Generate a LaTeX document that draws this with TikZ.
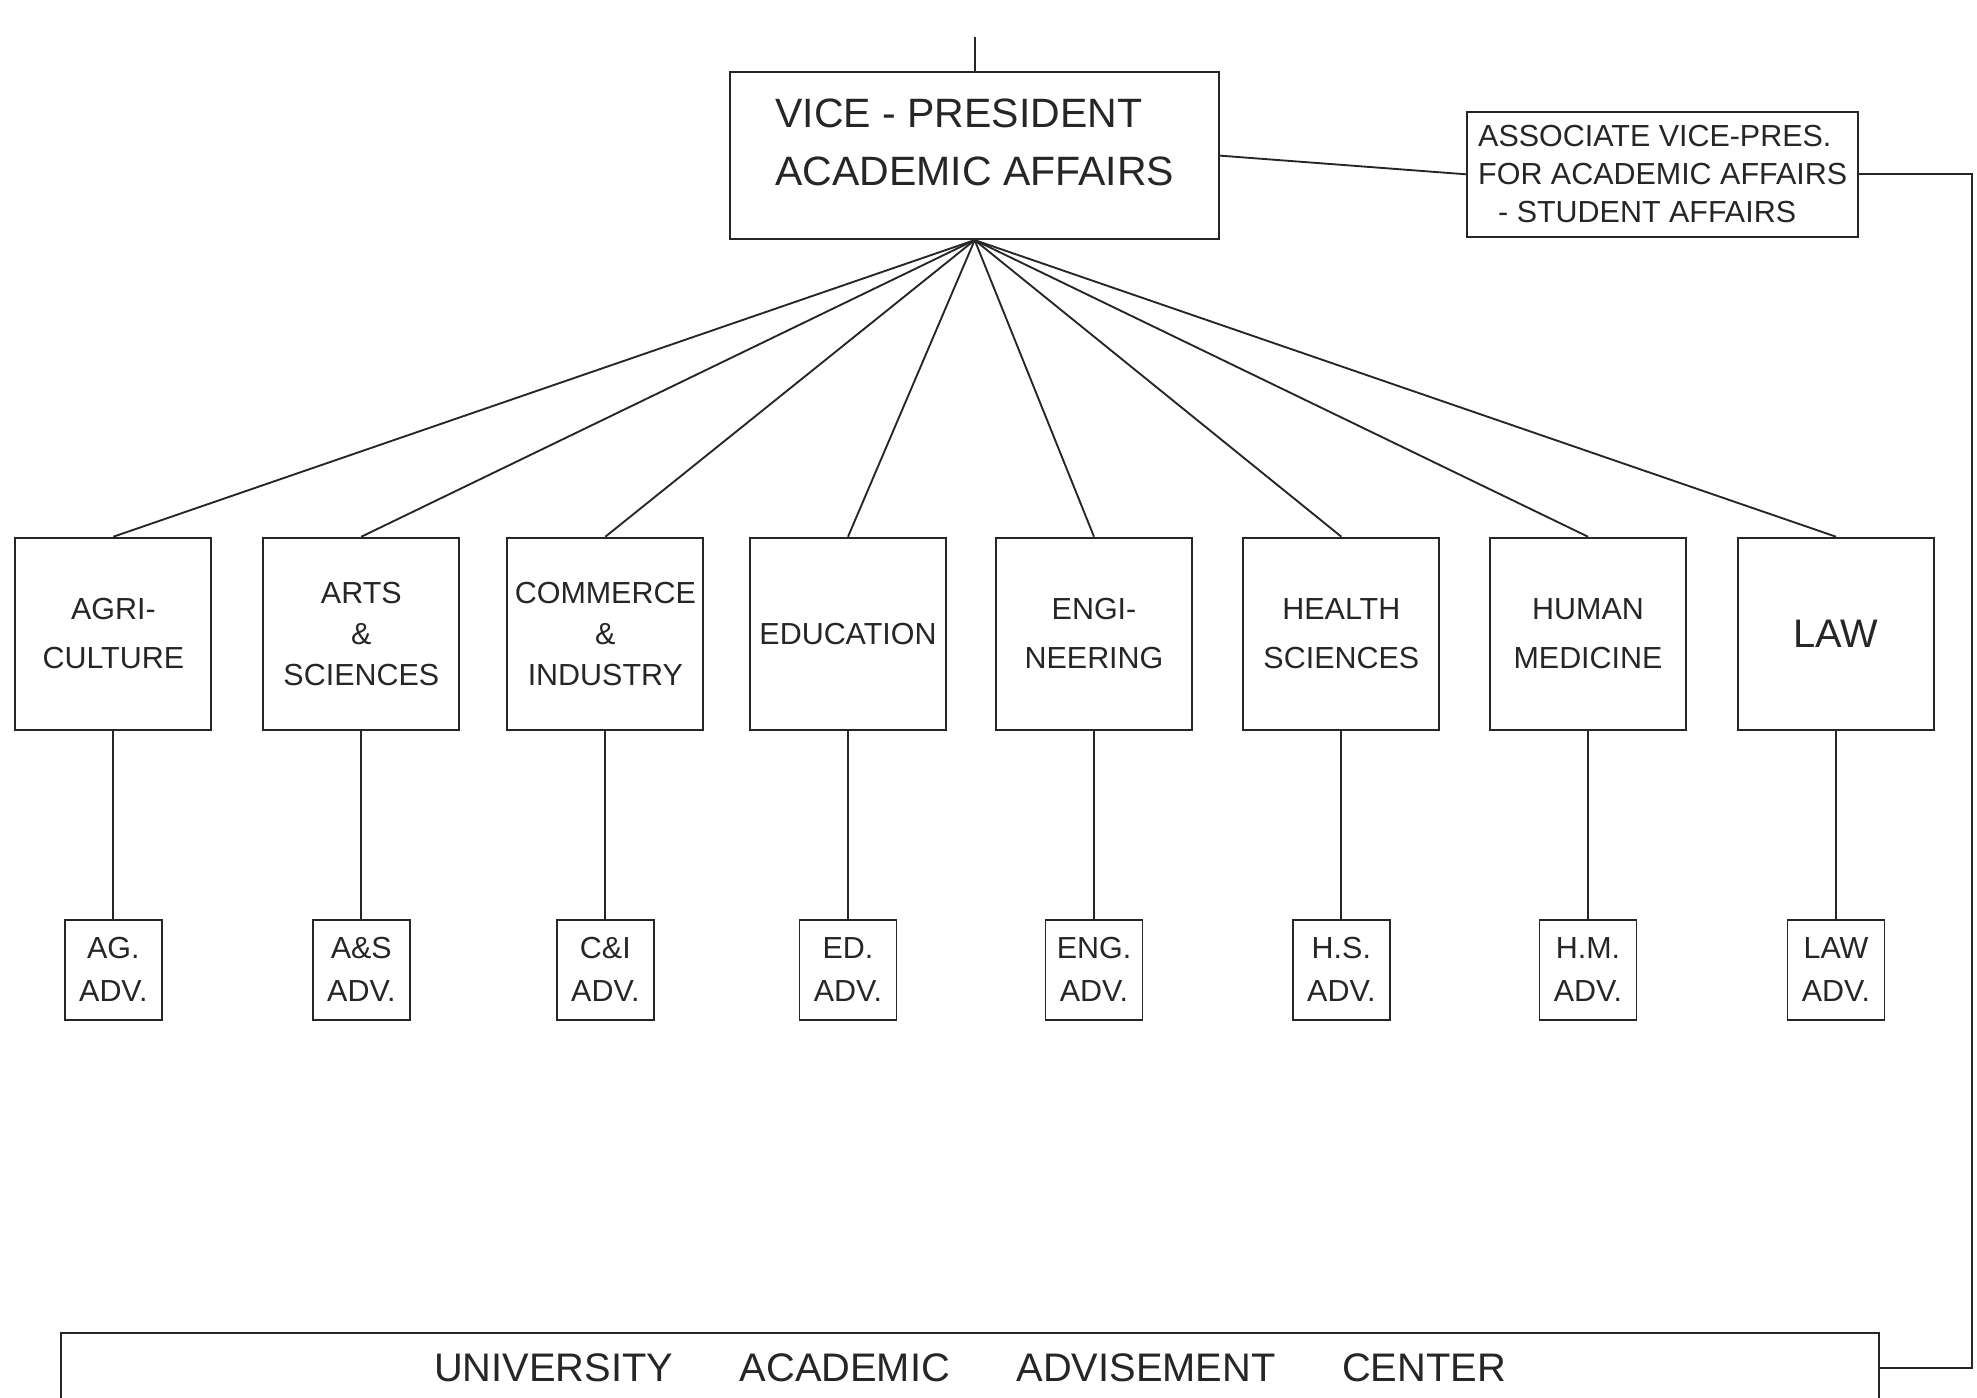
\documentclass[tikz,border=0pt]{standalone}
\usepackage{fontspec}
\setmainfont{Liberation Sans}

\begin{document}
\begin{tikzpicture}[color=black!85, line width=0.8pt]
    \tikzstyle{box}=[draw, rectangle, inner sep=2pt, align=center]
    \tikzstyle{office}=[box, minimum width=7.335cm, minimum height=2.505cm]
    \tikzstyle{office text}=[align=left, font=\fontsize{17.5}{25}\selectfont]
    \tikzstyle{assoc office}=[box, minimum width=5.865cm, minimum height=1.875cm, align=left, font=\fontsize{13}{16.2}\selectfont]
    \tikzstyle{faculty}=[box, minimum width=2.94cm, minimum height=2.88cm, font=\fontsize{13}{21}\selectfont]
    \tikzstyle{faculty3}=[faculty, font=\fontsize{13}{17.5}\selectfont]
    \tikzstyle{adviser}=[box, minimum width=1.455cm, minimum height=1.5cm, inner sep=1pt, font=\fontsize{13}{18.3}\selectfont]
    \tikzstyle{center}=[box, minimum width=27.27cm, minimum height=1.05cm, font=\fontsize{17}{19}\selectfont]

    \useasboundingbox (0,0) rectangle (29.655,20.955);

    % Offices at the top
    \node[office] (vp) at (14.62, 18.62) {};
    \node[office text] (vp-text) at ([yshift=0.2cm]vp.center) {VICE - PRESIDENT\\ACADEMIC AFFAIRS};
    \node[assoc office] (assoc) at (24.94, 18.34) {ASSOCIATE VICE-PRES.\\FOR ACADEMIC AFFAIRS\\\hspace*{0.3cm}- STUDENT AFFAIRS};
    \coordinate (vp-top) at (14.62, 20.4);

    % Colleges
    \node[faculty] (F-1) at (1.70, 11.45) {AGRI-\\CULTURE};
    \node[faculty3] (F-2) at (5.42, 11.45) {ARTS\\\&\\SCIENCES};
    \node[faculty3] (F-3) at (9.08, 11.45) {COMMERCE\\\&\\INDUSTRY};
    \node[faculty] (F-4) at (12.72, 11.45) {EDUCATION};
    \node[faculty] (F-5) at (16.41, 11.45) {ENGI-\\NEERING};
    \node[faculty] (F-6) at (20.12, 11.45) {HEALTH\\SCIENCES};
    \node[faculty] (F-7) at (23.82, 11.45) {HUMAN\\MEDICINE};
    \node[faculty, font=\fontsize{17}{20}\selectfont] (F-8) at (27.54, 11.45) {LAW};

    % Advisers
    \node[adviser] (A-1) at (1.70, 6.41) {AG.\\ADV.};
    \node[adviser] (A-2) at (5.42, 6.41) {A\&S\\ADV.};
    \node[adviser] (A-3) at (9.08, 6.41) {C\&I\\ADV.};
    \node[adviser] (A-4) at (12.72, 6.41) {ED.\\ADV.};
    \node[adviser] (A-5) at (16.41, 6.41) {ENG.\\ADV.};
    \node[adviser] (A-6) at (20.12, 6.41) {H.S.\\ADV.};
    \node[adviser] (A-7) at (23.82, 6.41) {H.M.\\ADV.};
    \node[adviser] (A-8) at (27.54, 6.41) {LAW\\ADV.};

    % Advisement center
    \node[center] (uaac) at (14.55, 0.435) {UNIVERSITY\hspace{1cm}ACADEMIC\hspace{1cm}ADVISEMENT\hspace{1cm}CENTER};
    \coordinate (rt) at (29.58, 0.435);

    % Links
    \draw (vp.north) -- (vp-top);
    \draw (vp.east) -- (assoc.west);
    \draw (assoc.east) -| (rt) -- (uaac.east);
    \foreach \i in {1,...,8} {
        \path (vp.south) edge (F-\i.north);
        \path (F-\i) edge (A-\i);
    }
\end{tikzpicture}
\end{document}
